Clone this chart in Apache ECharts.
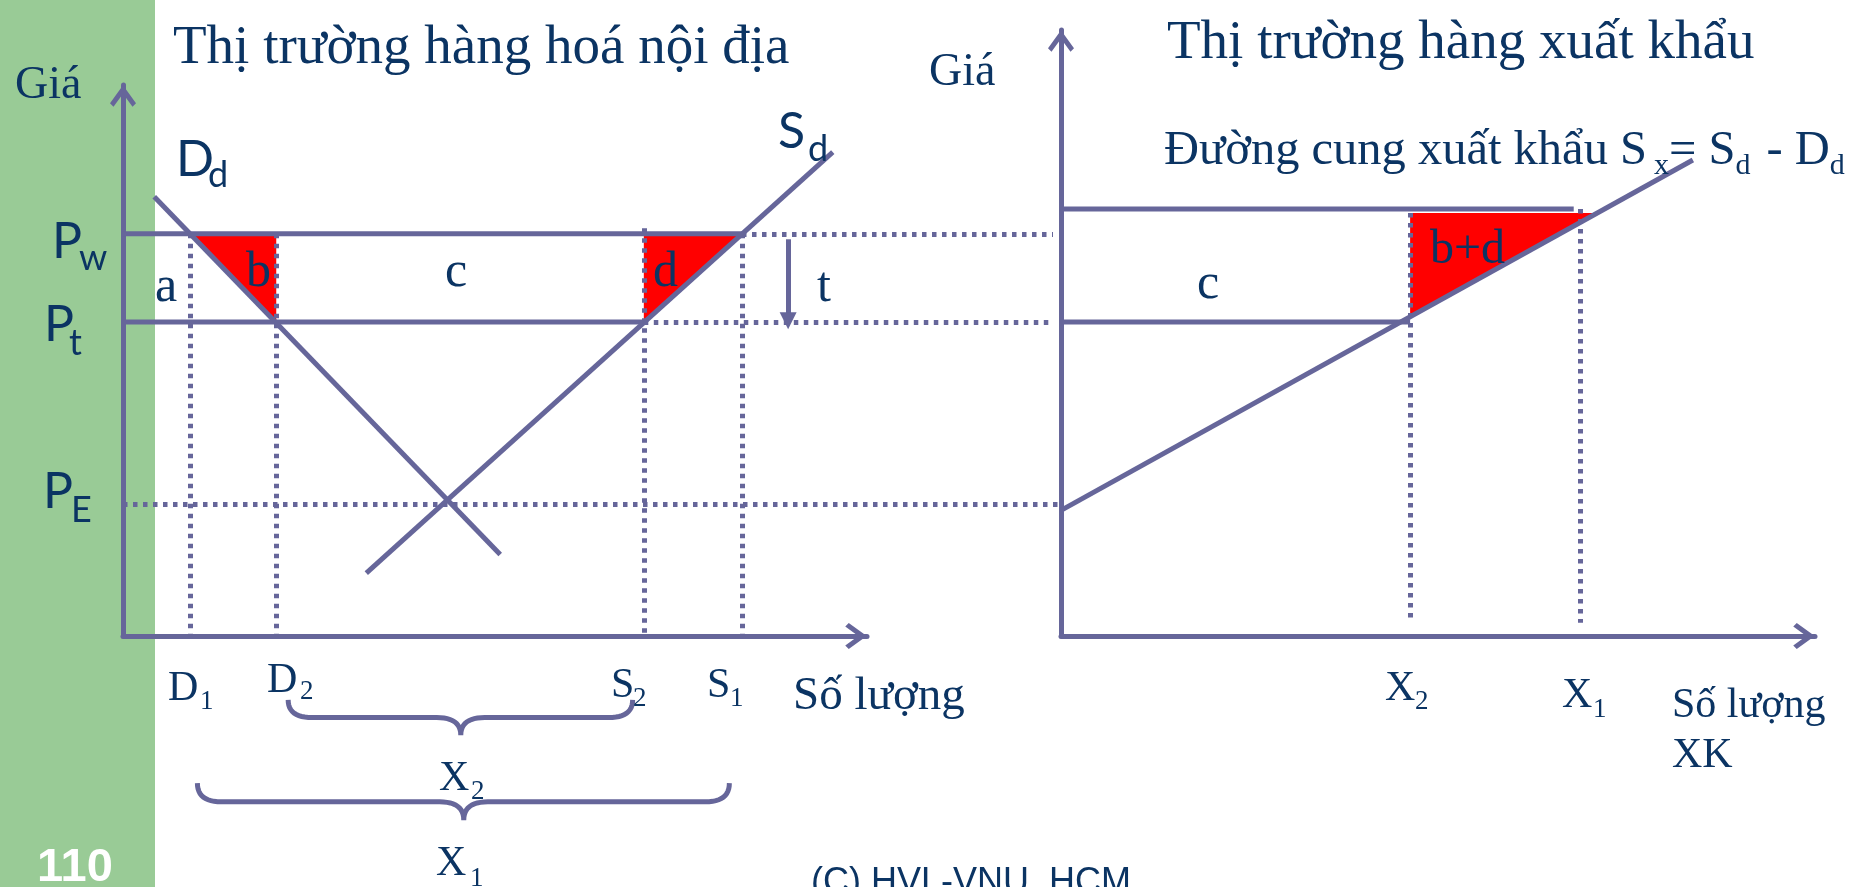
<!DOCTYPE html>
<html>
<head>
<meta charset="utf-8">
<script src="https://cdn.jsdelivr.net/npm/echarts@6.0.0/dist/echarts.min.js"></script>
<style>
  html, body { margin: 0; padding: 0; background: #fff; }
  #main { width: 1860px; height: 887px; }
</style>
</head>
<body>
<div id="main"></div>
<script>
var ink = '#66669a';   // line colour
var navy = '#0b3463';  // text colour
var red = '#ff0000';

// left panel: domestic market, price and quantity on a 0-100 scale
var prices = [73, 57, 24];                // Pw, Pt, PE
var qtyDomestic = [9.0, 20.6, 70, 83.2];  // D1, D2, S2, S1
var demand = [[4.2, 79.7], [50.7, 14.8]];
var supply = [[32.7, 11.4], [95.4, 87.8]];
var tariffArrow = [89.4, 72, 57.2];       // x, from, to
var bridgeX = [125, 126.3];               // where dotted price lines reach the right axis

// right panel: export market (same price scale)
var qtyExport = [46.3, 68.8];             // X2, X1
var exportTop = 77.5;
var exportSupply = [[0, 22.8], [83.8, 86.4]];

// braces under the left axis: x1, x2, xMid, yEnd, yBar, yTip
var braces = [[22.2, 68.5, 45.4, -11.6, -14.8, -18], [10, 81.5, 45.8, -26.7, -30.1, -33.4]];

var Pw = prices[0], Pt = prices[1], PE = prices[2];
var D1 = qtyDomestic[0], D2 = qtyDomestic[1], S2 = qtyDomestic[2], S1 = qtyDomestic[3];
var X2 = qtyExport[0], X1 = qtyExport[1];
var sxSlope = (exportSupply[1][1] - exportSupply[0][1]) / exportSupply[1][0];
var sxAtTop = (exportTop - 0.7 - exportSupply[0][1]) / sxSlope;

var triLeft = [
  [[D1, Pw], [D2, Pw], [D2, Pt]],
  [[S2, Pw], [S1, Pw], [S2, Pt]]
];
var triRight = [
  [[X2, exportTop - 0.7], [sxAtTop, exportTop - 0.7], [X2, exportSupply[0][1] + sxSlope * X2]]
];

function solid(i, pts) {
  return { type: 'line', xAxisIndex: i, yAxisIndex: i, data: pts, symbol: 'none', clip: false,
    silent: true, z: 5, lineStyle: { color: ink, width: 5 } };
}
function dotted(i, segs) {
  return { type: 'lines', coordinateSystem: 'cartesian2d', xAxisIndex: i, yAxisIndex: i, clip: false,
    silent: true, z: 4, lineStyle: { color: ink, width: 5, type: [4.5, 5.5], opacity: 1 },
    data: segs.map(function (s) { return { coords: s }; }) };
}
function fill(i, tris) {
  return { type: 'custom', xAxisIndex: i, yAxisIndex: i, silent: true, z: 3,
    data: tris.map(function (tr) { return tr[0]; }),
    renderItem: function (p, api) {
      var pts = tris[p.dataIndex].map(function (v) { return api.coord(v); });
      return { type: 'polygon', shape: { points: pts }, style: { fill: red } };
    } };
}
function quad(a, c, b, out) {
  for (var k = 1; k <= 12; k++) {
    var s = k / 12, u = 1 - s;
    out.push([u * u * a[0] + 2 * u * s * c[0] + s * s * b[0], u * u * a[1] + 2 * u * s * c[1] + s * s * b[1]]);
  }
}

var arrowPath = 'path://M13,0L26,18L22.5,21.5L13,8.5L3.5,21.5L0,18Z';
function axis(g, max) {
  return { gridIndex: g, type: 'value', min: 0, max: max,
    axisLine: { show: true, onZero: false, symbol: ['none', arrowPath], symbolSize: [26, 22],
      symbolOffset: [0, -11], lineStyle: { color: ink, width: 5 } },
    axisTick: { show: false }, axisLabel: { show: false }, splitLine: { show: false } };
}

// text helpers: x = left edge, base = baseline
var FS = 'Liberation Serif', FL = 'Lato', FA = 'Liberation Sans';
var mid = { 'Liberation Serif': 0.21, 'Lato': 0.31, 'Liberation Sans': 0.3 };
function fontOf(size, fam, weight) { return (weight || 'normal') + ' ' + size + 'px "' + fam + '"'; }
function t(str, x, base, size, fam, color, weight) {
  return { type: 'text', x: x, y: base - mid[fam] * size, z: 100, silent: true,
    style: { text: str, fill: color || navy, font: fontOf(size, fam, weight),
      align: 'left', verticalAlign: 'middle' } };
}
var measure = document.createElement('canvas').getContext('2d');
// a run of text pieces: [string, size, drop below baseline, gap before]
function run(x, base, fam, parts) {
  return parts.map(function (p) {
    x += p[3] || 0;
    var el = t(p[0], x, base + p[2], p[1], fam);
    measure.font = fontOf(p[1], fam);
    x += measure.measureText(p[0]).width;
    return el;
  });
}

var texts = [
  t('Thị trường hàng hoá nội địa', 173, 60, 55, FS),
  t('Thị trường hàng xuất khẩu', 1167, 55, 55, FS),
  t('Giá', 15, 96, 46, FS),
  t('Giá', 929, 83, 46, FS)
].concat(run(1164, 161, FS, [
  ['Đường cung xuất khẩu S', 48.5, 0], ['x', 30, 11, 7], ['= S', 48.5, 0],
  ['d', 30, 11], [' - D', 48.5, 0, 4], ['d', 30, 11]
])).concat([
  t('D', 176, 175, 50, FL), t('d', 208, 187, 36, FL),
  t('S', 778, 147, 50, FL), t('d', 808, 161, 36, FL),
  t('P', 52, 257, 50, FL), t('w', 79, 270, 36, FL),
  t('P', 44, 340, 50, FL), t('t', 69, 355, 36, FL),
  t('P', 43, 507, 50, FL), t('E', 71, 522, 36, FL),
  t('a', 155, 298, 50, FS), t('b', 246, 283, 50, FS), t('c', 445, 283, 50, FS),
  t('d', 653, 283, 50, FS), t('t', 817, 298, 50, FS),
  t('c', 1197, 295, 50, FS), t('b+d', 1430, 260, 48, FS),
  t('D', 168, 698, 42, FS), t('1', 200, 708, 27, FS),
  t('D', 267, 690, 42, FS), t('2', 300, 698, 27, FS),
  t('S', 611, 695, 42, FS), t('2', 633, 705, 27, FS),
  t('S', 707, 695, 42, FS), t('1', 730, 705, 27, FS),
  t('X', 439, 788, 42, FS), t('2', 471, 798, 27, FS),
  t('X', 436, 873, 42, FS), t('1', 470, 885, 27, FS),
  t('Số lượng', 793, 707, 47, FS),
  t('X', 1385, 698, 42, FS), t('2', 1415, 708, 27, FS),
  t('X', 1562, 705, 42, FS), t('1', 1593, 716, 27, FS),
  t('Số lượng', 1672, 715, 42, FS), t('XK', 1672, 765, 42, FS),
  t('110', 37, 882, 47, FA, '#ffffff', 'bold'),
  t('(C) HVL-VNU_HCM', 811, 894, 36, FA)
]);

var chart = echarts.init(document.getElementById('main'));
chart.setOption({
  animation: false,
  grid: [
    { left: 123, top: 85, width: 744, height: 551 },
    { left: 1061, top: 30, width: 754, height: 606 }
  ],
  xAxis: [axis(0, 100), axis(1, 100)],
  yAxis: [axis(0, 100), axis(1, 110)],
  graphic: [{ type: 'rect', z: -1, silent: true, shape: { x: 0, y: 0, width: 155, height: 887 },
    style: { fill: '#99cb96' } }].concat(texts),
  series: [
    fill(0, triLeft),
    fill(1, triRight),
    dotted(0, [
      [[D1, Pw], [D1, 0]], [[D2, Pw], [D2, 0]], [[S2, Pw + 1], [S2, 0]], [[S1, Pw], [S1, 0]],
      [[S1, Pw], [bridgeX[0], Pw]], [[S2, Pt], [bridgeX[0], Pt]], [[0, PE], [bridgeX[1], PE]]
    ]),
    dotted(1, [[[X2, exportTop - 0.7], [X2, 2.4]], [[X1, exportTop], [X1, 2.4]]]),
    solid(0, demand),
    solid(0, supply),
    solid(0, [[0, Pw], [S1, Pw]]),
    solid(0, [[0, Pt], [S2, Pt]]),
    solid(1, exportSupply),
    solid(1, [[0, exportTop], [68, exportTop]]),
    solid(1, [[0, Pt], [X2, Pt]]),
    { type: 'lines', coordinateSystem: 'cartesian2d', xAxisIndex: 0, yAxisIndex: 0, clip: false, silent: true,
      z: 5, symbol: ['none', 'triangle'], symbolSize: [0, 17],
      lineStyle: { color: ink, width: 5, opacity: 1 },
      data: [{ coords: [[tariffArrow[0], tariffArrow[1]], [tariffArrow[0], tariffArrow[2]]] }] },
    { type: 'custom', xAxisIndex: 0, yAxisIndex: 0, silent: true, z: 5,
      data: braces.map(function (b) { return [b[2], b[5]]; }),
      renderItem: function (p, api) {
        var b = braces[p.dataIndex];
        var L = api.coord([b[0], b[3]]), R = api.coord([b[1], b[3]]);
        var bar = api.coord([b[2], b[4]])[1], M = api.coord([b[2], b[5]]);
        var r = 24, pts = [L];
        quad(L, [L[0], bar], [L[0] + r, bar], pts);
        pts.push([M[0] - r, bar]);
        quad([M[0] - r, bar], [M[0], bar], M, pts);
        quad(M, [M[0], bar], [M[0] + r, bar], pts);
        pts.push([R[0] - r, bar]);
        quad([R[0] - r, bar], [R[0], bar], R, pts);
        return { type: 'polyline', shape: { points: pts }, style: { stroke: ink, lineWidth: 5, fill: null } };
      } }
  ]
});
</script>
</body>
</html>
